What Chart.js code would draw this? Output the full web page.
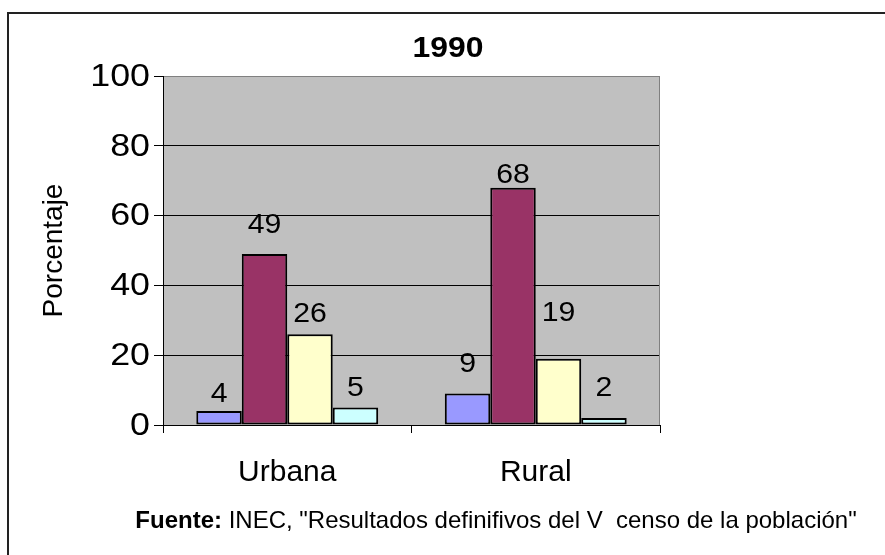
<!DOCTYPE html>
<html>
<head>
<meta charset="utf-8">
<script src="https://cdn.jsdelivr.net/npm/chart.js@4.4.1/dist/chart.umd.min.js"></script>
<style>
    html, body { margin: 0; padding: 0; background: #fff; }
    #wrap { width: 885px; height: 555px; }
</style>
</head>
<body>
<div id="wrap"><canvas id="censusChart" width="885" height="555"></canvas></div>
<script>
// values
const chartTitle = '1990';
const categories = ['Urbana', 'Rural'];
const seriesA = [4, 9];
const seriesB = [49, 68];
const seriesC = [26, 19];
const seriesD = [5, 2];
const yTicks = [0, 20, 40, 60, 80, 100];
const yTitle = 'Porcentaje';
const sourceBold = 'Fuente:';
const sourceText = ' INEC, "Resultados definifivos del V  censo de la población"';

// styling
const FONT = '"Liberation Sans", Arial, sans-serif';
const colors = ['#9999FF', '#993366', '#FFFFCC', '#CCFFFF'];
// px between a bar top and its value label (labels were moved by hand in the original)
const labelGap = [[9, 22], [21, 5], [12, 38], [12, 22]];

function wideText(ctx, text, x, y, opts) {
    ctx.save();
    ctx.translate(x, y);
    if (opts.rotate) ctx.rotate(opts.rotate);
    ctx.scale(opts.stretch || 1, 1);
    ctx.font = opts.font;
    ctx.fillStyle = '#000';
    ctx.textAlign = opts.align || 'center';
    ctx.textBaseline = opts.baseline || 'alphabetic';
    ctx.fillText(text, 0, 0);
    ctx.restore();
}

const framePlugin = {
    id: 'frame',
    beforeDraw(chart) {
        const { ctx, chartArea: a } = chart;
        ctx.save();
        ctx.fillStyle = '#fff';
        ctx.fillRect(0, 0, chart.width, chart.height);
        ctx.strokeStyle = '#222';
        ctx.lineWidth = 2;
        ctx.strokeRect(8, 13, chart.width + 20, chart.height + 20);
        ctx.fillStyle = '#C0C0C0';
        ctx.fillRect(a.left, a.top, a.right - a.left, a.bottom - a.top);
        ctx.restore();
    },
    afterDraw(chart) {
        const { ctx, chartArea: a, scales } = chart;
        ctx.save();
        ctx.strokeStyle = '#808080';
        ctx.lineWidth = 1;
        ctx.beginPath();
        ctx.moveTo(a.right - 0.5, a.top);
        ctx.lineTo(a.right - 0.5, a.bottom);
        ctx.stroke();
        ctx.restore();

        // title
        wideText(ctx, chartTitle, 448, 57, { font: 'bold 29px ' + FONT, stretch: 1.1 });

        // y tick labels
        yTicks.forEach(v => {
            wideText(ctx, String(v), 150, scales.y.getPixelForValue(v) + 1, {
                font: '32px ' + FONT, align: 'right', baseline: 'middle', stretch: 1.12
            });
        });

        // y axis title
        wideText(ctx, yTitle, 54, (a.top + a.bottom) / 2, {
            font: '28px ' + FONT, rotate: -Math.PI / 2, baseline: 'middle'
        });

        // category labels
        categories.forEach((c, i) => {
            wideText(ctx, c, scales.x.getPixelForValue(i), 481, { font: '30px ' + FONT });
        });

        // value labels
        chart.data.datasets.forEach((ds, di) => {
            chart.getDatasetMeta(di).data.forEach((bar, i) => {
                wideText(ctx, String(ds.data[i]), bar.x, bar.y - labelGap[di][i], {
                    font: '28px ' + FONT, stretch: 1.08
                });
            });
        });

        // source line, bold prefix
        ctx.save();
        ctx.font = 'bold 24px ' + FONT;
        const wb = ctx.measureText(sourceBold).width;
        ctx.font = '24px ' + FONT;
        const wt = ctx.measureText(sourceText).width;
        ctx.restore();
        const x0 = 496 - (wb + wt) / 2;
        wideText(ctx, sourceBold, x0, 528, { font: 'bold 24px ' + FONT, align: 'left' });
        wideText(ctx, sourceText, x0 + wb, 528, { font: '24px ' + FONT, align: 'left' });
    }
};

const series = [seriesA, seriesB, seriesC, seriesD];

new Chart(document.getElementById('censusChart').getContext('2d'), {
    type: 'bar',
    data: {
        labels: categories,
        datasets: series.map((d, i) => ({
            data: d,
            backgroundColor: colors[i],
            borderColor: '#000',
            borderWidth: 2,
            borderSkipped: false,
            categoryPercentage: 0.732,
            barPercentage: 1
        }))
    },
    options: {
        responsive: false,
        animation: false,
        layout: { padding: { left: 0, top: 76, right: 225, bottom: 0 } },
        plugins: {
            legend: { display: false },
            tooltip: { enabled: false },
            title: { display: false }
        },
        scales: {
            x: {
                grid: { offset: true, drawOnChartArea: false, tickLength: 8, tickColor: '#000', tickWidth: 1 },
                border: { color: '#000', width: 1 },
                ticks: { display: false },
                afterFit(s) { s.height = 130; }
            },
            y: {
                min: 0,
                max: 100,
                ticks: { stepSize: 20, display: false },
                grid: {
                    color: c => (c.tick && c.tick.value === 100) ? '#808080' : '#000',
                    tickColor: '#000',
                    tickLength: 9,
                    lineWidth: 1
                },
                border: { color: '#000', width: 1 },
                afterFit(s) { s.width = 163; }
            }
        }
    },
    plugins: [framePlugin]
});
</script>
</body>
</html>
